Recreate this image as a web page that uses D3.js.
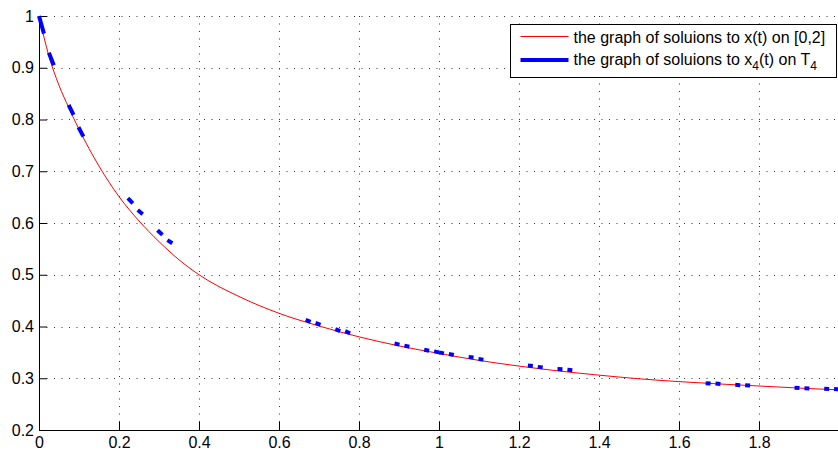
<!DOCTYPE html>
<html>
<head>
<meta charset="utf-8">
<script src="https://cdn.jsdelivr.net/npm/d3@7"></script>
<style>
  body { margin: 0; background: #fff; }
  svg { display: block; font-family: "Liberation Sans", Arial, Helvetica, sans-serif; }
</style>
</head>
<body>
<div id="chart"></div>
<script>
// Solution x(t) on [0,2]
const redT = [0, 0.025, 0.05, 0.075, 0.1, 0.125, 0.15, 0.175, 0.2, 0.25, 0.3, 0.35, 0.4,
  0.5, 0.6, 0.7, 0.8, 0.9, 1.0, 1.1, 1.2, 1.3, 1.4, 1.5, 1.6, 1.7, 1.8, 1.9, 2.0];
const redX = [1.0, 0.922, 0.866, 0.822, 0.781, 0.744, 0.71, 0.679, 0.651, 0.604, 0.564, 0.529, 0.5,
  0.458, 0.4255, 0.401, 0.38, 0.3625, 0.348, 0.3345, 0.3235, 0.314, 0.306, 0.299, 0.2935, 0.289, 0.285, 0.281, 0.2775];

// T_4: intervals of the time scale, start points in units of 1/81, each 1/81 long
const tsStarts = [0, 2, 6, 8, 18, 20, 24, 26, 54, 56, 60, 62, 72, 74, 78, 80,
  81, 83, 87, 89, 99, 101, 105, 107, 135, 137, 141, 143, 153, 155, 159, 161];
// x_4(t) at the start and the end of each interval
const blueStart = [1.0, 0.929, 0.828, 0.785, 0.648, 0.625, 0.586, 0.567, 0.413, 0.407, 0.395, 0.391, 0.367, 0.363, 0.355, 0.352,
  0.350, 0.347, 0.341, 0.337, 0.3245, 0.322, 0.318, 0.3165, 0.2905, 0.290, 0.2873, 0.2867, 0.2815, 0.2809, 0.2795, 0.279];
const blueEnd = [0.966, 0.905, 0.809, 0.767, 0.638, 0.617, 0.577, 0.561, 0.409, 0.403, 0.391, 0.387, 0.365, 0.361, 0.353, 0.350,
  0.348, 0.345, 0.340, 0.336, 0.3235, 0.321, 0.3175, 0.3155, 0.290, 0.289, 0.2867, 0.2861, 0.281, 0.2803, 0.279, 0.2785];

const xTicks = [0, 0.2, 0.4, 0.6, 0.8, 1, 1.2, 1.4, 1.6, 1.8, 2];
const xTickLabels = ["0", "0.2", "0.4", "0.6", "0.8", "1", "1.2", "1.4", "1.6", "1.8", ""]; // "2" falls off the figure
const yTicks = [0.2, 0.3, 0.4, 0.5, 0.6, 0.7, 0.8, 0.9, 1];

const W = 838, H = 450;
const margin = { top: 16, right: -1, bottom: 20, left: 39 };
const width = W - margin.left - margin.right;
const height = H - margin.top - margin.bottom;

const svg = d3.select("#chart").append("svg")
    .attr("width", W)
    .attr("height", H);

const g = svg.append("g")
    .attr("transform", `translate(${margin.left},${margin.top})`);

const x = d3.scaleLinear().domain([0, 2]).range([0, width]);
const y = d3.scaleLinear().domain([0.2, 1]).range([height, 0]);

// dotted grid
g.append("g").selectAll("line")
  .data(xTicks.slice(1))
  .enter().append("line")
    .attr("x1", d => Math.round(x(d)) + 0.5).attr("x2", d => Math.round(x(d)) + 0.5)
    .attr("y1", 0).attr("y2", height)
    .attr("stroke", "#333").attr("stroke-dasharray", "1,6.5");
g.append("g").selectAll("line")
  .data(yTicks.slice(1))
  .enter().append("line")
    .attr("y1", d => Math.round(y(d)) + 0.5).attr("y2", d => Math.round(y(d)) + 0.5)
    .attr("x1", 0).attr("x2", width)
    .attr("stroke", "#333").attr("stroke-dasharray", "1,6.5");

// axes, ticks inside
const xAxis = g.append("g")
    .attr("transform", `translate(0,${height})`)
    .call(d3.axisBottom(x).tickValues(xTicks).tickSizeInner(-8).tickSizeOuter(0)
      .tickFormat((d, i) => xTickLabels[i]));
xAxis.selectAll("text").attr("y", 18).attr("dy", 0);
const yAxis = g.append("g")
    .call(d3.axisLeft(y).tickValues(yTicks).tickSizeInner(-8).tickSizeOuter(0).tickPadding(5)
      .tickFormat(d3.format("~g")));
[xAxis, yAxis].forEach(a => {
  a.selectAll("text").attr("fill", "#000").style("font-size", "16px");
  a.selectAll("line, path").attr("stroke", "#000");
});

// red curve
const line = d3.line()
    .x((d, i) => x(redT[i]))
    .y(d => y(d))
    .curve(d3.curveMonotoneX);
g.append("path")
    .datum(redX)
    .attr("d", line)
    .attr("fill", "none")
    .attr("stroke", "#f00")
    .attr("stroke-width", 1);

// blue pieces on T_4
g.append("g").selectAll("line")
  .data(tsStarts)
  .enter().append("line")
    .attr("x1", d => x(d / 81))
    .attr("x2", d => x((d + 1) / 81))
    .attr("y1", (d, i) => y(blueStart[i]))
    .attr("y2", (d, i) => y(blueEnd[i]))
    .attr("stroke", "#00f")
    .attr("stroke-width", 4);

// legend
const legend = svg.append("g").attr("transform", "translate(510.5,24.5)");
legend.append("rect")
    .attr("width", 326).attr("height", 53)
    .attr("fill", "#fff").attr("stroke", "#000");
legend.append("line")
    .attr("x1", 10).attr("x2", 58).attr("y1", 12).attr("y2", 12)
    .attr("stroke", "#f00").attr("stroke-width", 1);
legend.append("line")
    .attr("x1", 10).attr("x2", 58).attr("y1", 35.5).attr("y2", 35.5)
    .attr("stroke", "#00f").attr("stroke-width", 4);
legend.append("text")
    .attr("x", 63).attr("y", 18.5)
    .style("font-size", "16px")
    .text("the graph of soluions to x(t) on [0,2]");
const t2 = legend.append("text")
    .attr("x", 63).attr("y", 40.5)
    .style("font-size", "16px");
t2.append("tspan").text("the graph of soluions to x");
t2.append("tspan").attr("dy", 5).style("font-size", "12px").text("4");
t2.append("tspan").attr("dy", -5).text("(t) on T");
t2.append("tspan").attr("dy", 5).style("font-size", "12px").text("4");
</script>
</body>
</html>
